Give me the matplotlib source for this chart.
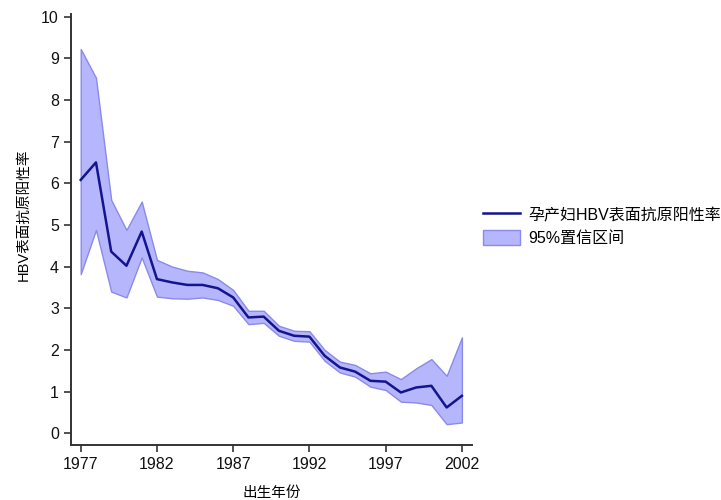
import matplotlib
matplotlib.use("Agg")
import matplotlib.pyplot as plt
import numpy as np

plt.rcParams['font.family'] = ['Liberation Sans', 'Noto Sans CJK SC', 'DejaVu Sans']

years = list(range(1977, 2003))
rate = [6.08, 6.50, 4.36, 4.02, 4.84, 3.70, 3.62, 3.56, 3.56, 3.48, 3.26, 2.78, 2.80,
        2.46, 2.34, 2.32, 1.86, 1.58, 1.48, 1.26, 1.24, 0.98, 1.10, 1.14, 0.62, 0.90]
ci_upper = [9.22, 8.53, 5.60, 4.88, 5.56, 4.16, 4.00, 3.90, 3.86, 3.70, 3.44, 2.94, 2.94,
            2.58, 2.46, 2.45, 2.00, 1.72, 1.64, 1.44, 1.48, 1.30, 1.56, 1.78, 1.38, 2.30]
ci_lower = [3.82, 4.88, 3.40, 3.26, 4.22, 3.28, 3.24, 3.23, 3.26, 3.20, 3.06, 2.62, 2.65,
            2.34, 2.22, 2.20, 1.74, 1.46, 1.36, 1.12, 1.04, 0.76, 0.74, 0.68, 0.22, 0.26]
x_ticks = [1977, 1982, 1987, 1992, 1997, 2002]
y_ticks = list(range(0, 11))

fig = plt.figure(figsize=(7.21, 5.0), dpi=100)
ax = fig.add_axes([0.098, 0.11, 0.557, 0.862])

ax.fill_between(years, ci_lower, ci_upper, facecolor='#b6b6fd', edgecolor='#8a8aea',
                linewidth=1.0, label='95%置信区间')
ax.plot(years, rate, color='#14148c', linewidth=1.8, label='孕产妇HBV表面抗原阳性率')

ax.set_xlim(1976.34, 2002.68)
ax.set_ylim(-0.28, 10.06)
ax.set_xticks(x_ticks)
ax.set_yticks(y_ticks)
ax.tick_params(direction='out', length=5, width=1.2, color='#333333', labelsize=11.5,
               labelcolor='#111111')
for side in ('top', 'right'):
    ax.spines[side].set_visible(False)
for side in ('left', 'bottom'):
    ax.spines[side].set_linewidth(1.4)
    ax.spines[side].set_color('#333333')

ax.set_xlabel('出生年份', fontsize=10.5, labelpad=10)
ax.set_ylabel('HBV表面抗原阳性率', fontsize=10.5)
ax.yaxis.set_label_coords(-0.10, 0.535)

handles, labels = ax.get_legend_handles_labels()
fig.legend(handles[::-1], labels[::-1], loc='center left', bbox_to_anchor=(0.67, 0.547),
           frameon=False, fontsize=11.5, handlelength=2.3, handleheight=1.1,
           labelspacing=0.45, handletextpad=0.5, borderaxespad=0, borderpad=0)

fig.savefig('out.png', dpi=100, facecolor='white')
